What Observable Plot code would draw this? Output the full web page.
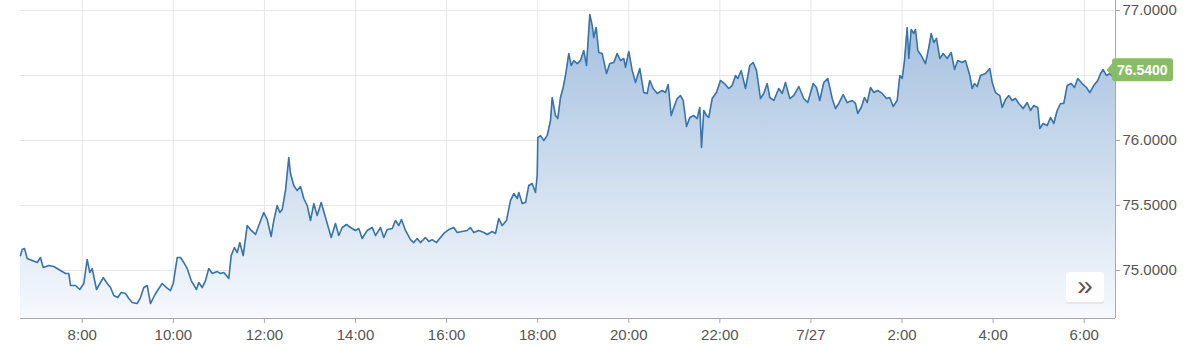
<!DOCTYPE html>
<html><head><meta charset="utf-8">
<script src="https://cdn.jsdelivr.net/npm/d3@7"></script>
<script src="https://cdn.jsdelivr.net/npm/@observablehq/plot@0.6"></script>
<style>html,body{margin:0;padding:0;background:#fff;} #chart svg{display:block}</style>
</head><body><div id="chart"></div>
<script>
// Hours since 7/26 00:00 (UTC) of each price reading
const hours = [
6.645,6.682,6.733,6.792,6.902,7.012,7.084,7.143,7.266,7.376,
7.523,7.633,7.705,7.743,7.853,7.947,8.035,8.109,8.167,8.219,
8.314,8.401,8.461,8.549,8.621,8.693,8.781,8.856,8.950,9.023,
9.097,9.207,9.280,9.352,9.427,9.499,9.587,9.682,9.756,9.851,
9.938,9.998,10.086,10.158,10.230,10.305,10.393,10.509,10.560,10.634,
10.707,10.779,10.854,10.964,11.036,11.109,11.218,11.271,11.344,11.403,
11.460,11.535,11.622,11.695,11.805,11.877,11.987,12.062,12.149,12.207,
12.281,12.338,12.391,12.463,12.536,12.573,12.646,12.720,12.793,12.865,
12.940,13.012,13.085,13.159,13.247,13.342,13.467,13.561,13.634,13.708,
13.803,13.891,14.000,14.073,14.147,14.257,14.367,14.439,14.549,14.622,
14.696,14.806,14.879,14.951,15.010,15.098,15.208,15.280,15.355,15.427,
15.537,15.610,15.684,15.779,15.867,15.939,16.049,16.159,16.233,16.343,
16.453,16.525,16.598,16.707,16.817,16.892,17.002,17.074,17.147,17.221,
17.316,17.403,17.476,17.551,17.586,17.660,17.733,17.805,17.880,17.952,
17.990,18.003,18.062,18.135,18.209,18.282,18.319,18.392,18.442,18.501,
18.561,18.611,18.684,18.736,18.793,18.868,18.940,19.013,19.072,19.145,
19.197,19.232,19.285,19.342,19.417,19.511,19.584,19.672,19.746,19.819,
19.891,19.928,20.001,20.076,20.148,20.242,20.330,20.405,20.462,20.537,
20.624,20.734,20.807,20.866,20.932,20.989,21.064,21.136,21.195,21.268,
21.340,21.428,21.503,21.560,21.597,21.648,21.707,21.757,21.832,21.926,
22.014,22.102,22.196,22.271,22.344,22.394,22.469,22.563,22.658,22.732,
22.805,22.892,22.965,23.040,23.097,23.185,23.294,23.369,23.441,23.536,
23.624,23.733,23.843,23.931,24.050,24.122,24.194,24.282,24.370,24.467,
24.539,24.612,24.708,24.796,24.906,24.978,25.029,25.103,25.176,25.235,
25.308,25.380,25.468,25.565,25.659,25.731,25.806,25.894,25.951,26.004,
26.054,26.113,26.149,26.201,26.258,26.296,26.346,26.421,26.515,26.588,
26.640,26.697,26.757,26.829,26.904,26.992,27.080,27.152,27.224,27.321,
27.393,27.488,27.541,27.591,27.650,27.723,27.833,27.927,27.980,28.052,
28.147,28.199,28.272,28.344,28.419,28.491,28.564,28.660,28.748,28.821,
28.893,28.981,29.025,29.099,29.187,29.260,29.332,29.407,29.479,29.552,
29.626,29.714,29.787,29.859,29.956,30.050,30.123,30.210,30.298,30.358,
30.417,30.489,30.562,30.650,30.687
];
const values = [
75.115,75.162,75.169,75.092,75.077,75.062,75.100,75.023,75.038,75.031,
75.000,74.977,74.977,74.885,74.885,74.854,74.900,75.085,74.985,75.015,
74.854,74.908,74.946,74.900,74.869,74.808,74.792,74.831,74.823,74.785,
74.754,74.746,74.792,74.869,74.885,74.746,74.808,74.862,74.900,74.869,
74.846,74.900,75.100,75.100,75.062,75.015,74.923,74.854,74.908,74.869,
74.923,75.015,74.977,74.992,74.977,74.985,74.938,75.115,75.177,75.138,
75.215,75.115,75.346,75.315,75.277,75.346,75.446,75.392,75.262,75.385,
75.500,75.446,75.469,75.615,75.869,75.746,75.654,75.615,75.646,75.554,
75.500,75.385,75.515,75.423,75.523,75.408,75.254,75.362,75.269,75.331,
75.354,75.331,75.308,75.323,75.246,75.308,75.331,75.269,75.331,75.254,
75.315,75.323,75.385,75.346,75.392,75.308,75.238,75.215,75.246,75.215,
75.254,75.223,75.238,75.215,75.254,75.285,75.315,75.331,75.292,75.300,
75.308,75.331,75.292,75.308,75.292,75.277,75.300,75.285,75.400,75.346,
75.385,75.538,75.592,75.554,75.600,75.515,75.523,75.654,75.669,75.600,
75.731,76.023,76.038,76.000,76.038,76.154,76.331,76.192,76.169,76.331,
76.408,76.500,76.669,76.577,76.615,76.592,76.615,76.692,76.577,76.969,
76.885,76.792,76.869,76.677,76.669,76.515,76.592,76.600,76.669,76.615,
76.631,76.562,76.685,76.538,76.446,76.554,76.369,76.362,76.462,76.400,
76.362,76.385,76.369,76.431,76.192,76.254,76.323,76.346,76.308,76.108,
76.177,76.192,76.169,76.254,75.946,76.231,76.192,76.177,76.323,76.369,
76.462,76.438,76.400,76.423,76.500,76.477,76.538,76.400,76.577,76.600,
76.538,76.323,76.362,76.438,76.331,76.308,76.400,76.362,76.446,76.323,
76.346,76.415,76.323,76.292,76.438,76.408,76.308,76.446,76.477,76.323,
76.246,76.285,76.354,76.292,76.308,76.285,76.208,76.254,76.331,76.292,
76.408,76.369,76.385,76.362,76.323,76.331,76.262,76.308,76.500,76.477,
76.615,76.869,76.631,76.854,76.823,76.854,76.692,76.654,76.592,76.715,
76.823,76.754,76.785,76.631,76.669,76.631,76.677,76.546,76.615,76.600,
76.615,76.500,76.400,76.438,76.415,76.500,76.515,76.554,76.446,76.369,
76.346,76.254,76.315,76.346,76.308,76.323,76.285,76.246,76.292,76.231,
76.269,76.254,76.092,76.131,76.115,76.177,76.131,76.231,76.285,76.285,
76.423,76.438,76.408,76.477,76.438,76.408,76.369,76.423,76.462,76.515,
76.546,76.500,76.515,76.485,76.540
];
const tickHours = [8,10,12,14,16,18,20,22,24,26,28,30];
const tickLabels = ["8:00","10:00","12:00","14:00","16:00","18:00","20:00","22:00","7/27","2:00","4:00","6:00"];
const yTicks = [75, 75.5, 76, 77];
const yGrid = [75, 75.5, 76, 76.5, 77];
const xDomainHours = [6.645, 30.687];
const yDomain = [74.631, 77.077];
const lastLabel = "76.5400";
const buttonLabel = "»";

const toDate = h => new Date(Date.UTC(2023, 6, 26) + h * 3600e3);
const data = hours.map((h, i) => ({t: toDate(h), v: values[i]}));
const tickDates = tickHours.map(toDate);
const labelMap = new Map(tickDates.map((d, i) => [+d, tickLabels[i]]));
const xDomain = xDomainHours.map(toDate);

const chart = Plot.plot({
  width: 1200, height: 348,
  marginLeft: 20, marginRight: 85, marginTop: 0, marginBottom: 30,
  style: {fontFamily: "'Liberation Sans', Arial, sans-serif", fontSize: "15px", color: "#555", background: "#fff", overflow: "visible"},
  x: {type: "utc", domain: xDomain, ticks: tickDates, tickFormat: d => labelMap.get(+d), tickSize: 5, tickPadding: 6, label: null},
  y: {domain: yDomain, axis: "right", ticks: yTicks, tickFormat: d3.format(".4f"), tickSize: 4, tickPadding: 3, label: null},
  marks: [
    Plot.ruleX(tickDates, {stroke: "#e6e6e6"}),
    Plot.ruleY(yGrid, {stroke: "#e6e6e6"}),
    Plot.areaY(data, {x: "t", y1: yDomain[0], y2: "v", fill: "url(#areaGrad)"}),
    Plot.lineY(data, {x: "t", y: "v", stroke: "#3873ab", strokeWidth: 1.6}),
    Plot.ruleY([yDomain[0]], {stroke: "#a8a8a8"}),
    Plot.ruleX([xDomain[1]], {stroke: "#a8a8a8"})
  ]
});
document.getElementById("chart").appendChild(chart);

const svgNode = chart.tagName.toLowerCase() === "svg" ? chart : chart.querySelector("svg");
const svg = d3.select(svgNode);
const defs = svg.insert("defs", ":first-child");
const grad = defs.append("linearGradient").attr("id", "areaGrad")
  .attr("x1", 0).attr("y1", 0).attr("x2", 0).attr("y2", 1);
grad.append("stop").attr("offset", "0%").attr("stop-color", "#a3bfde");
grad.append("stop").attr("offset", "100%").attr("stop-color", "#f6f9fd");

svg.selectAll('g[aria-label^="x-axis"] line, g[aria-label="x-axis tick"] path, g[aria-label^="y-axis"] line, g[aria-label="y-axis tick"] path')
  .attr("stroke", "#a8a8a8");

// Last price label, positioned with the chart's own scales
const xs = chart.scale("x"), ys = chart.scale("y");
const xv = xs.apply(toDate(hours[hours.length - 1]));
const yv = ys.apply(values[values.length - 1]);
const L = xv - 3, R = xv + 58, T = yv - 11.5, B = yv + 11.5, tip = xv - 8.5;
const lab = svg.append("g");
lab.append("path")
  .attr("d", `M${tip},${yv} L${L},${yv - 6} V${T + 3} Q${L},${T} ${L + 3},${T} H${R - 3} Q${R},${T} ${R},${T + 3} V${B - 3} Q${R},${B} ${R - 3},${B} H${L + 3} Q${L},${B} ${L},${B - 3} V${yv + 6} Z`)
  .attr("fill", "#88bd66");
lab.append("text").attr("x", L + 5).attr("y", yv).attr("dy", "0.36em")
  .attr("text-anchor", "start")
  .attr("fill", "#fff").attr("font-weight", "bold").attr("font-size", 14)
  .attr("font-family", "'Liberation Sans', Arial, sans-serif").text(lastLabel);

// Navigator button in plot's lower-right corner
const xr = xs.range, yr = ys.range;
const bx1 = Math.max(...xr) - 11, by1 = Math.max(...yr) - 15;
const btn = svg.append("g");
btn.append("rect").attr("x", bx1 - 38).attr("y", by1 - 29).attr("width", 38).attr("height", 30)
  .attr("rx", 3).attr("fill", "#e4e4e4").attr("opacity", 0.8);
btn.append("rect").attr("x", bx1 - 38).attr("y", by1 - 31).attr("width", 38).attr("height", 30)
  .attr("rx", 3).attr("fill", "#fff");
btn.append("text").attr("x", bx1 - 19).attr("y", by1 - 8).attr("text-anchor", "middle")
  .attr("font-size", 28).attr("fill", "#555")
  .attr("font-family", "'Liberation Sans', Arial, sans-serif").text(buttonLabel);
</script>
</body></html>
